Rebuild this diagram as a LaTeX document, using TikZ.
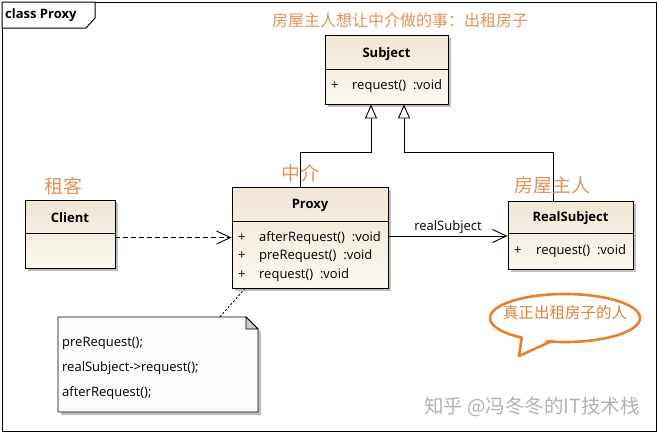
\documentclass[tikz,border=0pt]{standalone}
\usepackage{fontspec}
\setmainfont{Open Sans}
\newfontfamily\cjk{Noto Sans CJK SC}
\usetikzlibrary{arrows.meta,shadows,shapes.geometric,calc}
\definecolor{boxA}{RGB}{240,230,212}
\definecolor{boxB}{RGB}{251,248,241}
\definecolor{lbl}{RGB}{226,146,88}
\definecolor{bubline}{RGB}{232,128,44}
\definecolor{bubtxt}{RGB}{218,130,62}
\definecolor{notefill}{RGB}{251,250,253}
\tikzset{
  umlbox/.style={draw=black, line width=0.9pt, top color=boxA, bottom color=boxB,
    drop shadow={shadow xshift=3pt, shadow yshift=-3pt, fill=black!25, opacity=1}, inner sep=0pt},
  ttl/.style={font=\fontsize{13}{15}\selectfont\bfseries, inner sep=0pt},
  mth/.style={font=\fontsize{13}{15}\selectfont, inner sep=0pt, anchor=west},
  divline/.style={line width=0.9pt},
  orlabel/.style={font=\cjk\fontsize{19}{22}\selectfont, text=lbl, inner sep=0pt},
  inh/.style={line width=0.9pt, -{Triangle[open, length=14pt, width=12pt, fill=white]}},
  assoc/.style={line width=0.9pt, -{Straight Barb[length=14pt, width=13pt, line width=0.9pt]}},
  dep/.style={line width=0.9pt, dash pattern=on 5pt off 3pt, -{Straight Barb[length=14pt, width=13pt, line width=0.9pt]}},
  notelink/.style={line width=0.9pt, dash pattern=on 2pt off 2pt},
}
\begin{document}
\begin{tikzpicture}[x=1pt,y=-1pt]
\useasboundingbox (0,0) rectangle (658,437);
% frame
\draw[line width=1pt] (2,2) rectangle (656,431);
\draw[line width=1pt, fill=white] (2,2) -- (95,2) -- (95,18) -- (86,28) -- (2,28) -- cycle;
\node[font=\fontsize{13}{15}\selectfont\bfseries, anchor=west, inner sep=0pt] (frametitle) at (5,15) {class Proxy};

% Subject
\node[umlbox, minimum width=123pt, minimum height=69pt] (subject) at (386.5,69.5) {};
\draw[divline] (325,69) -- (448,69);
\node[ttl] (subjectT) at (386.5,54) {Subject};
\node[mth] (subjectP) at (331,86) {+};
\node[mth] (subjectM) at (352,86) {request()\ \ :void};

% Proxy
\node[umlbox, minimum width=156pt, minimum height=101pt] (proxy) at (310,237.5) {};
\draw[divline] (232,221) -- (388,221);
\node[ttl] (proxyT) at (310,205) {Proxy};
\node[mth] (proxyP1) at (238,238) {+};
\node[mth] (proxyP2) at (238,256) {+};
\node[mth] (proxyP3) at (238,275) {+};
\node[mth] (proxyM1) at (259,238) {afterRequest()\ \ :void};
\node[mth] (proxyM2) at (259,256) {preRequest()\ \ :void};
\node[mth] (proxyM3) at (259,275) {request()\ \ :void};

% Client
\node[umlbox, minimum width=90pt, minimum height=68pt] (client) at (70,234) {};
\draw[divline] (25,233) -- (115,233);
\node[ttl] (clientT) at (70,218) {Client};

% RealSubject
\node[umlbox, minimum width=125pt, minimum height=68pt] (real) at (570.5,235) {};
\draw[divline] (508,233) -- (633,233);
\node[ttl] (realT) at (570.5,218) {RealSubject};
\node[mth] (realP) at (514,251) {+};
\node[mth] (realM) at (536,251) {request()\ \ :void};

% generalisations
\coordinate (j1) at (371,152);
\coordinate (j2) at (404,152);
\draw[inh] ([xshift=-10pt]proxy.north) |- (j1) -- (j1 |- subject.south);
\draw[inh] ([xshift=-17.5pt]real.north) |- (j2) -- (j2 |- subject.south);

% association
\draw[assoc] ([yshift=1.5pt]proxy.east) -- ([yshift=1.5pt]proxy.east -| real.west)
  node[pos=0.5, above=1pt, font=\fontsize{13}{15}\selectfont, inner sep=1pt] (assocL) {realSubject};

% dependency
\draw[dep] (client.east |- proxy.west) -- (proxy.west);

% note
\node[minimum width=200pt, minimum height=95pt, inner sep=0pt] (note) at (158,364.5) {};
\filldraw[line width=0.9pt, fill=notefill, drop shadow={shadow xshift=3pt, shadow yshift=-3pt, fill=black!25, opacity=1}]
  (58,317) -- (246,317) -- (258,329) -- (258,412) -- (58,412) -- cycle;
\filldraw[line width=0.9pt, fill=black!20] (246,317) -- (246,329) -- (258,329) -- cycle;
\node[mth] (n1) at (62,343) {preRequest();};
\node[mth] (n2) at (62,368) {realSubject->request();};
\node[mth] (n3) at (62,393) {afterRequest();};
\draw[notelink] ([xshift=62pt]note.north) -- ([xshift=-65pt]proxy.south);

% orange labels
\node[orlabel, font=\cjk\fontsize{16}{19}\selectfont] (lblTop) at (400,20) {房屋主人想让中介做的事：出租房子};
\node[orlabel] (lblClient) at (63,186) {租客};
\node[orlabel] (lblProxy) at (300,173) {中介};
\node[orlabel] (lblReal) at (552,185) {房屋主人};

% speech bubble
\node[ellipse, draw=bubline, line width=2.6pt, fill=white, minimum width=150pt, minimum height=48pt, inner sep=0pt] (bubble) at (565,318) {};
\fill[white] (522,333) -- (519,356) -- (553,337) -- cycle;
\draw[bubline, line width=2.6pt, line join=round] (522,336.5) -- (519,356) -- (553,340.5);
\node[font=\cjk\fontsize{15.5}{18}\selectfont, text=bubtxt, inner sep=0pt] (bubT) at (565,313) {真正出租房子的人};

% watermark
\node[font=\cjk\fontsize{19.5}{22}\selectfont, text=black!30, inner sep=0pt] (wm) at (532,407) {知乎 @冯冬冬的IT技术栈};
\end{tikzpicture}
\end{document}
